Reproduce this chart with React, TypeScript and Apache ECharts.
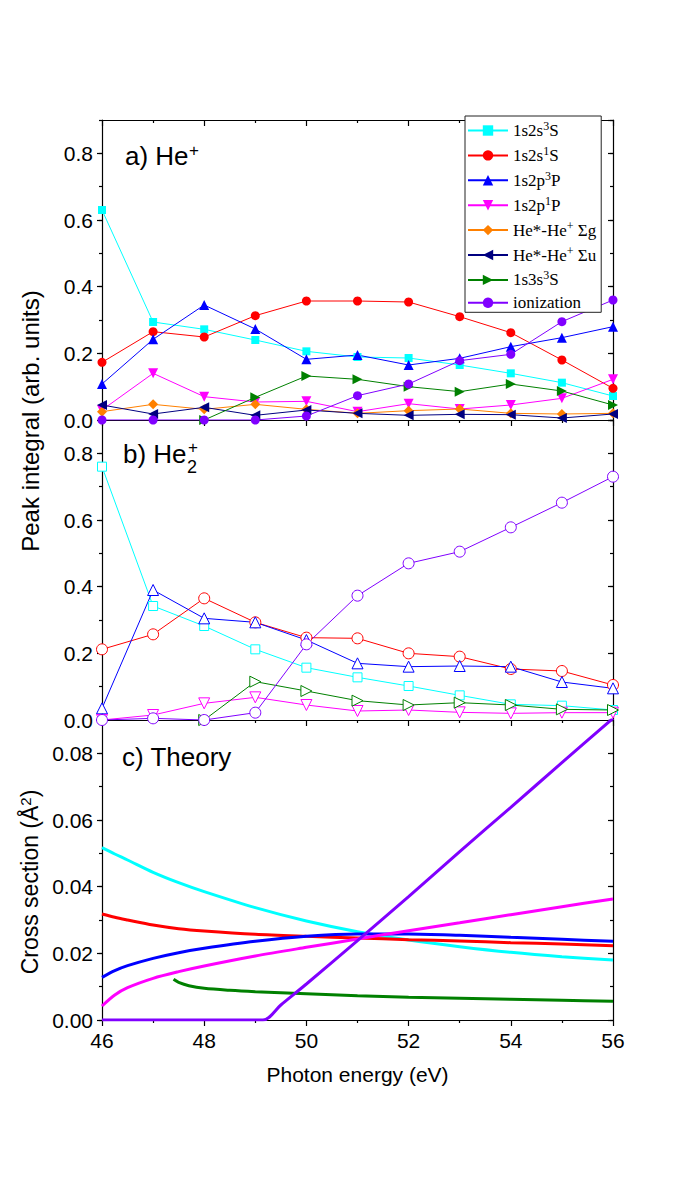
import React, { useEffect, useRef } from "react";
import * as echarts from "echarts";

// ---------- data ----------
const energies = [46, 47, 48, 49, 50, 51, 52, 53, 54, 55, 56];

// panel a) He+
const a_1s2s3S = [0.63, 0.294, 0.272, 0.24, 0.206, 0.189, 0.186, 0.165, 0.14, 0.112, 0.072];
const a_1s2s1S = [0.173, 0.265, 0.249, 0.313, 0.357, 0.357, 0.354, 0.31, 0.262, 0.18, 0.095];
const a_1s2p3P = [0.108, 0.242, 0.345, 0.273, 0.182, 0.195, 0.165, 0.185, 0.22, 0.247, 0.28];
const a_1s2p1P = [0.03, 0.14, 0.07, 0.054, 0.056, 0.025, 0.049, 0.033, 0.045, 0.065, 0.122];
const a_Sg = [0.025, 0.047, 0.032, 0.047, 0.032, 0.02, 0.028, 0.033, 0.02, 0.018, 0.02];
const a_Su = [0.045, 0.018, 0.038, 0.014, 0.03, 0.02, 0.014, 0.017, 0.016, 0.006, 0.018];
const a_1s3s3S = [null, null, 0, 0.068, 0.132, 0.122, 0.1, 0.085, 0.108, 0.087, 0.045];
const a_ion = [0, 0, 0, 0, 0.012, 0.073, 0.108, 0.178, 0.197, 0.295, 0.36];

// panel b) He2+
const b_1s2s3S = [0.76, 0.342, 0.282, 0.212, 0.157, 0.128, 0.102, 0.074, 0.047, 0.043, 0.03];
const b_1s2s1S = [0.212, 0.257, 0.365, 0.293, 0.247, 0.245, 0.2, 0.19, 0.153, 0.147, 0.105];
const b_1s2p3P = [0.035, 0.39, 0.305, 0.293, 0.24, 0.17, 0.16, 0.162, 0.16, 0.114, 0.095];
const b_1s2p1P = [0, 0.015, 0.05, 0.068, 0.045, 0.027, 0.03, 0.023, 0.02, 0.022, 0.022];
const b_1s3s3S = [null, null, 0, 0.115, 0.087, 0.058, 0.045, 0.052, 0.045, 0.032, 0.03];
const b_ion = [0, 0.005, 0, 0.022, 0.227, 0.373, 0.47, 0.505, 0.578, 0.652, 0.73];

// panel c) theory
const theoryX = [46, 46.25, 46.5, 47, 47.5, 48, 49, 50, 51, 52, 53, 54, 55, 56];
const th_1s2s3S = [0.0517, 0.0498, 0.048, 0.0443, 0.0412, 0.0385, 0.0337, 0.0297, 0.0265, 0.024, 0.022, 0.0203, 0.019, 0.018];
const th_1s2s1S = [0.0318, 0.0308, 0.03, 0.0285, 0.0274, 0.0267, 0.0257, 0.0251, 0.0246, 0.0241, 0.0237, 0.0232, 0.0228, 0.0223];
const th_1s2p3P = [0.0128, 0.0148, 0.0163, 0.0185, 0.0202, 0.0215, 0.0236, 0.0251, 0.0258, 0.0258, 0.0254, 0.0248, 0.0242, 0.0236];
const th_1s2p1P = [0.0042, 0.0075, 0.0097, 0.0125, 0.0145, 0.0162, 0.0192, 0.0218, 0.0243, 0.0268, 0.0292, 0.0316, 0.034, 0.0363];
const thGreenX = [47.4, 47.5, 47.7, 48, 48.5, 49, 50, 51, 52, 53, 54, 55, 56];
const th_1s3s3S = [0.0122, 0.0113, 0.0103, 0.0095, 0.0089, 0.0085, 0.0079, 0.0073, 0.0068, 0.0065, 0.0062, 0.0059, 0.0056];
const thIonX = [46, 49.15, 49.5, 50, 51, 52, 53, 54, 55, 56];
const th_ion = [0, 0, 0.0045, 0.0108, 0.0238, 0.037, 0.0505, 0.0638, 0.0772, 0.0905];

const legendNames = [
  "1s2s³S",
  "1s2s¹S",
  "1s2p³P",
  "1s2p¹P",
  "He*-He⁺ Σg",
  "He*-He⁺ Σu",
  "1s3s³S",
  "ionization",
];
const legendRich: Record<string, string> = {
  "1s2s³S": "{n|1s2s}{s|3}{n|S}",
  "1s2s¹S": "{n|1s2s}{s|1}{n|S}",
  "1s2p³P": "{n|1s2p}{s|3}{n|P}",
  "1s2p¹P": "{n|1s2p}{s|1}{n|P}",
  "He*-He⁺ Σg": "{n|He*-He}{s|+}{n| Σg}",
  "He*-He⁺ Σu": "{n|He*-He}{s|+}{n| Σu}",
  "1s3s³S": "{n|1s3s}{s|3}{n|S}",
  ionization: "{n|ionization}",
};

// ---------- styling ----------
const SANS = "'Liberation Sans', Arial, Helvetica, sans-serif";
const SERIF = "'Liberation Serif', 'Times New Roman', serif";
const C = {
  cyan: "#00FFFF",
  red: "#FF0000",
  blue: "#0000FF",
  magenta: "#FF00FF",
  orange: "#FF8000",
  navy: "#000080",
  green: "#008000",
  purple: "#8000FF",
};

const pairs = (xs: number[], ys: (number | null)[]) =>
  xs.map((x, i) => [x, ys[i]]).filter((p) => p[1] !== null);

function pointSeries(
  name: string,
  ys: (number | null)[],
  color: string,
  symbol: string,
  size: number,
  rotate: number,
  panel: number
) {
  const open = panel === 1;
  return {
    name,
    type: "line",
    xAxisIndex: panel,
    yAxisIndex: panel,
    data: pairs(energies, ys),
    symbol,
    symbolSize: size,
    symbolRotate: rotate,
    showSymbol: true,
    lineStyle: { color, width: 1 },
    itemStyle: open
      ? { color: "#ffffff", borderColor: color, borderWidth: 1 }
      : { color, borderWidth: 0 },
    emphasis: { disabled: true },
    z: 3,
  };
}

function theorySeries(name: string, xs: number[], ys: number[], color: string) {
  return {
    name,
    type: "line",
    xAxisIndex: 2,
    yAxisIndex: 2,
    data: pairs(xs, ys),
    showSymbol: false,
    symbol: "none",
    smooth: 0.3,
    lineStyle: { color, width: 3 },
    itemStyle: { color },
    emphasis: { disabled: true },
    z: 3,
  };
}

const GRID_LEFT = 102;
const GRID_WIDTH = 511;
const GRID_TOP = 120;
const GRID_H = 300;

const yMax = [0.9, 0.9, 0.09];
const yMajor = [0.2, 0.2, 0.02];
const yMinor = [0.1, 0.1, 0.01];
const yDigits = [1, 1, 2];

function buildOption() {
  const line = { color: "#000", width: 1.2 };
  const grids = [0, 1, 2].map((i) => ({
    left: GRID_LEFT,
    width: GRID_WIDTH,
    top: GRID_TOP + GRID_H * i,
    height: GRID_H,
    containLabel: false,
  }));

  const xAxes: any[] = [];
  for (let i = 0; i < 3; i++) {
    xAxes.push({
      type: "value",
      gridIndex: i,
      position: "bottom",
      min: 46,
      max: 56,
      interval: 2,
      axisLine: { show: true, onZero: false, lineStyle: line },
      axisTick: { show: i === 2, inside: false, length: 6, lineStyle: line },
      minorTick: { show: i === 2, splitNumber: 2, length: 3, lineStyle: line },
      axisLabel: {
        show: i === 2,
        fontSize: 21,
        color: "#000",
        fontFamily: SANS,
        margin: 10,
      },
      splitLine: { show: false },
      minorSplitLine: { show: false },
      name: i === 2 ? "Photon energy (eV)" : "",
      nameLocation: "middle",
      nameGap: 44,
      nameTextStyle: { fontSize: 21, color: "#000", fontFamily: SANS },
    });
  }
  for (let i = 0; i < 3; i++) {
    xAxes.push({
      type: "value",
      gridIndex: i,
      position: "top",
      min: 46,
      max: 56,
      interval: 2,
      axisLine: { show: true, onZero: false, lineStyle: line },
      axisTick: { show: true, inside: true, length: 6, lineStyle: line },
      minorTick: { show: true, splitNumber: 2, length: 3, lineStyle: line },
      axisLabel: { show: false },
      splitLine: { show: false },
    });
  }

  const yAxes: any[] = [];
  for (let i = 0; i < 3; i++) {
    yAxes.push({
      type: "value",
      gridIndex: i,
      position: "left",
      min: 0,
      max: yMax[i],
      interval: yMajor[i],
      axisLine: { show: true, onZero: false, lineStyle: line },
      axisTick: { show: true, inside: false, length: 5, lineStyle: line },
      axisLabel: {
        show: true,
        showMaxLabel: false,
        fontSize: 21,
        color: "#000",
        fontFamily: SANS,
        margin: 9,
        formatter: (v: number) => v.toFixed(yDigits[i]),
      },
      splitLine: { show: false },
    });
  }
  for (let i = 0; i < 3; i++) {
    yAxes.push({
      type: "value",
      gridIndex: i,
      position: "left",
      min: 0,
      max: yMax[i],
      interval: yMinor[i],
      axisLine: { show: false, onZero: false },
      axisTick: { show: true, inside: false, length: 3, lineStyle: line },
      axisLabel: { show: false },
      splitLine: { show: false },
    });
  }
  for (let i = 0; i < 3; i++) {
    yAxes.push({
      type: "value",
      gridIndex: i,
      position: "right",
      min: 0,
      max: yMax[i],
      interval: yMajor[i],
      axisLine: { show: true, onZero: false, lineStyle: line },
      axisTick: { show: true, inside: true, length: 5, lineStyle: line },
      axisLabel: { show: false },
      splitLine: { show: false },
    });
  }
  for (let i = 0; i < 3; i++) {
    yAxes.push({
      type: "value",
      gridIndex: i,
      position: "right",
      min: 0,
      max: yMax[i],
      interval: yMinor[i],
      axisLine: { show: false, onZero: false },
      axisTick: { show: true, inside: true, length: 3, lineStyle: line },
      axisLabel: { show: false },
      splitLine: { show: false },
    });
  }

  const series: any[] = [
    pointSeries(legendNames[0], a_1s2s3S, C.cyan, "rect", 8, 0, 0),
    pointSeries(legendNames[1], a_1s2s1S, C.red, "circle", 9, 0, 0),
    pointSeries(legendNames[2], a_1s2p3P, C.blue, "triangle", 10, 0, 0),
    pointSeries(legendNames[3], a_1s2p1P, C.magenta, "triangle", 10, 180, 0),
    pointSeries(legendNames[4], a_Sg, C.orange, "diamond", 10, 0, 0),
    pointSeries(legendNames[5], a_Su, C.navy, "triangle", 10, 90, 0),
    pointSeries(legendNames[6], a_1s3s3S, C.green, "triangle", 10, -90, 0),
    pointSeries(legendNames[7], a_ion, C.purple, "circle", 9, 0, 0),
    pointSeries("b 1s2s3S", b_1s2s3S, C.cyan, "rect", 9, 0, 1),
    pointSeries("b 1s2s1S", b_1s2s1S, C.red, "circle", 11, 0, 1),
    pointSeries("b 1s2p3P", b_1s2p3P, C.blue, "triangle", 11, 0, 1),
    pointSeries("b 1s2p1P", b_1s2p1P, C.magenta, "triangle", 11, 180, 1),
    pointSeries("b 1s3s3S", b_1s3s3S, C.green, "triangle", 11, -90, 1),
    pointSeries("b ionization", b_ion, C.purple, "circle", 11, 0, 1),
    theorySeries("c 1s2s3S", theoryX, th_1s2s3S, C.cyan),
    theorySeries("c 1s2s1S", theoryX, th_1s2s1S, C.red),
    theorySeries("c 1s2p3P", theoryX, th_1s2p3P, C.blue),
    theorySeries("c 1s2p1P", theoryX, th_1s2p1P, C.magenta),
    theorySeries("c 1s3s3S", thGreenX, th_1s3s3S, C.green),
    theorySeries("c ionization", thIonX, th_ion, C.purple),
  ];

  const label = (text: string, x: number, y: number, size: number) => ({
    type: "text",
    x,
    y,
    z: 10,
    style: {
      text,
      font: `${size}px ${SANS}`,
      fill: "#000",
      textAlign: "left",
      textVerticalAlign: "middle",
    },
  });

  const graphic: any[] = [
    label("a) He", 125, 156, 26),
    label("+", 189, 150, 17),
    label("b) He", 123, 454, 26),
    label("+", 188, 447, 17),
    label("2", 187, 467, 18),
    label("c) Theory", 122, 757, 26),
    {
      type: "text",
      x: 30,
      y: 421,
      rotation: Math.PI / 2,
      z: 10,
      style: {
        text: "Peak integral (arb. units)",
        font: `24px ${SANS}`,
        fill: "#000",
        textAlign: "center",
        textVerticalAlign: "middle",
      },
    },
    {
      type: "text",
      x: 30,
      y: 882,
      rotation: Math.PI / 2,
      z: 10,
      style: {
        text: "{n|Cross section (Å}{s|2}{n|)}",
        textAlign: "center",
        textVerticalAlign: "middle",
        rich: {
          n: { fontFamily: SANS, fontSize: 23, fill: "#000", lineHeight: 26 },
          s: { fontFamily: SANS, fontSize: 15, fill: "#000", padding: [0, 0, 10, 0] },
        },
      },
    },
  ];

  return {
    animation: false,
    backgroundColor: "#fff",
    grid: grids,
    xAxis: xAxes,
    yAxis: yAxes,
    series,
    graphic,
    legend: {
      data: legendNames,
      orient: "vertical",
      left: 465,
      top: 116,
      itemWidth: 40,
      itemHeight: 13,
      itemGap: 5.9,
      padding: [4, 5, 1, 2],
      backgroundColor: "#fff",
      borderColor: "#222",
      borderWidth: 1,
      borderRadius: 0,
      selectedMode: false,
      formatter: (name: string) => legendRich[name] || name,
      textStyle: {
        fontFamily: SERIF,
        fontSize: 17,
        color: "#000",
        rich: {
          n: { fontFamily: SERIF, fontSize: 17, color: "#000", lineHeight: 20 },
          s: { fontFamily: SERIF, fontSize: 12, color: "#000", padding: [0, 0, 9, 0] },
        },
      },
      z: 20,
    },
  };
}

export default function App() {
  const ref = useRef<HTMLDivElement>(null);
  useEffect(() => {
    document.body.style.margin = "0";
    const chart = echarts.init(ref.current!, null, { renderer: "svg" });
    chart.setOption(buildOption() as any);
    return () => chart.dispose();
  }, []);
  return <div ref={ref} style={{ width: 684, height: 1200 }} />;
}
